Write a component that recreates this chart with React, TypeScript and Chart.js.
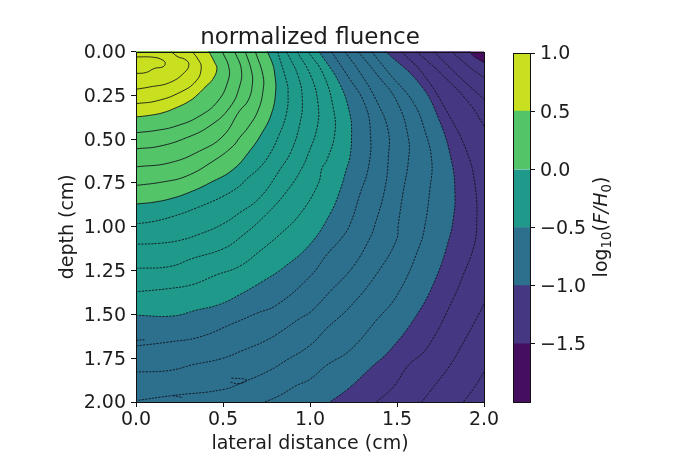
import React, { useEffect, useRef } from "react";
import { Chart, registerables } from "chart.js";

Chart.register(...registerables);

type P = [number, number];

const chartTitle = "normalized fluence";
const xLabel = "lateral distance (cm)";
const yLabel = "depth (cm)";
const xTicks = [0, 0.5, 1, 1.5, 2];
const yTicks = [0, 0.25, 0.5, 0.75, 1, 1.25, 1.5, 1.75, 2];
const barLevels = [-2, -1.5, -1, -0.5, 0, 0.5, 1];
const barColors = ["#450e5f", "#453781", "#2d708e", "#1f9a8a", "#53c568", "#c8e020"];
const barTicks = [-1.5, -1, -0.5, 0, 0.5, 1];

// filled-band boundaries
const edge05: P[] = [[.419,0],[.452,.062],[.465,.100],[.440,.160],[.404,.196],[.356,.244],[.308,.282],[.231,.320],[.154,.349],[.078,.364],[0,.373]];
const edge00: P[] = [[.755,0],[.785,.07],[.797,.127],[.803,.223],[.778,.356],[.72,.471],[.655,.565],[.558,.673],[.423,.750],[.308,.803],[.212,.836],[.106,.859],[0,.870]];
const edgeM05: P[] = [[1.052,0],[1.171,.184],[1.229,.356],[1.239,.471],[1.229,.605],[1.212,.662],[1.171,.796],[1.114,.929],[.999,1.101],[.845,1.235],[.730,1.310],[.600,1.385],[.480,1.443],[.346,1.476],[.212,1.509],[0,1.505]];
const edgeM10: P[] = [[1.436,0],[1.632,.186],[1.737,.377],[1.814,.626],[1.833,.816],[1.824,.950],[1.795,1.084],[1.719,1.304],[1.613,1.504],[1.459,1.705],[1.344,1.810],[1.219,1.925],[1.114,2]];
const edgeM15: P[] = [[1.920,0],[1.939,.025],[2,.062]];

// solid contour lines
const solid09: P[] = [[0,.03],[.106,.033],[.154,.049],[.168,.068],[.154,.087],[.106,.096],[.059,.119],[0,.125]];
const solid08: P[] = [[.202,0],[.241,.030],[.279,.043],[.304,.072],[.279,.119],[.193,.177],[.078,.202],[0,.215]];
const solid07: P[] = [[.323,0],[.356,.043],[.375,.091],[.346,.167],[.250,.234],[.116,.282],[0,.297]];
const solid04: P[] = [[.496,0],[.534,.091],[.529,.167],[.471,.282],[.365,.368],[.231,.425],[.116,.450],[0,.463]];
const solid03: P[] = [[.567,0],[.605,.100],[.596,.196],[.538,.320],[.423,.425],[.289,.492],[.135,.540],[0,.555]];
const solid02: P[] = [[.628,0],[.663,.108],[.669,.184],[.644,.280],[.596,.337],[.500,.482],[.365,.568],[.193,.635],[0,.658]];
const solid01: P[] = [[.686,0],[.730,.137],[.730,.223],[.701,.337],[.644,.433],[.596,.490],[.557,.540],[.442,.626],[.289,.711],[.154,.744],[0,.764]];

// dashed contour lines
const dashM01: P[] = [[.813,0],[.864,.165],[.874,.223],[.864,.356],[.816,.490],[.768,.586],[.711,.662],[.634,.729],[.596,.767],[.500,.826],[.346,.893],[.212,.941],[.097,.970],[0,.983]];
const dashM02: P[] = [[.864,0],[.931,.137],[.956,.280],[.941,.414],[.893,.566],[.835,.662],[.711,.834],[.596,.920],[.490,.989],[.365,1.042],[.250,1.078],[.135,1.094],[0,1.100]];
const dashM03: P[] = [[.926,0],[1.008,.146],[1.046,.299],[1.041,.433],[.989,.586],[.955,.662],[.883,.776],[.749,.929],[.596,1.063],[.500,1.126],[.327,1.180],[.193,1.227],[0,1.237]];
const dashM04: P[] = [[.989,0],[1.075,.127],[1.133,.318],[1.142,.471],[1.095,.624],[1.07,.662],[1.046,.758],[.941,.929],[.826,1.044],[.711,1.139],[.596,1.225],[.461,1.275],[.327,1.329],[.193,1.352],[0,1.371]];
const dashM06: P[] = [[1.123,0],[1.210,.129],[1.315,.301],[1.348,.473],[1.335,.664],[1.286,.816],[1.229,.989],[1.181,1.065],[1.095,1.161],[.999,1.285],[.807,1.447],[.691,1.495],[.557,1.552],[.365,1.629],[.193,1.657],[0,1.680]];
const dashM07: P[] = [[1.200,0],[1.287,.119],[1.383,.282],[1.450,.454],[1.450,.606],[1.431,.778],[1.373,.989],[1.344,1.065],[1.248,1.227],[1.114,1.371],[.999,1.489],[.941,1.523],[.845,1.590],[.749,1.648],[.615,1.705],[.490,1.753],[.327,1.787],[.193,1.820],[0,1.829]];
const dashM08: P[] = [[1.277,0],[1.383,.129],[1.498,.282],[1.565,.492],[1.565,.626],[1.536,.798],[1.507,.989],[1.497,1.075],[1.392,1.256],[1.239,1.447],[1.095,1.581],[.999,1.677],[.864,1.762],[.768,1.820],[.615,1.887],[.500,1.929],[.212,1.963],[0,1.992]];
const dashM09: P[] = [[1.354,0],[1.459,.129],[1.594,.291],[1.661,.454],[1.700,.626],[1.690,.778],[1.661,.989],[1.632,1.103],[1.507,1.380],[1.382,1.533],[1.229,1.705],[1.095,1.791],[.999,1.871],[.922,1.906],[.826,1.963],[.740,2]];
const dashM11: P[] = [[1.526,0],[1.651,.129],[1.785,.339],[1.900,.568],[1.948,.759],[1.958,.989],[1.939,1.122],[1.881,1.274],[1.824,1.409],[1.670,1.695],[1.565,1.791],[1.478,1.915],[1.382,2]];
const dashM12a: P[] = [[1.613,0],[1.766,.138],[1.920,.301],[2,.425]];
const dashM12b: P[] = [[2,1.438],[1.977,1.486],[1.862,1.695],[1.805,1.791],[1.709,1.915],[1.642,2]];
const dashM13a: P[] = [[1.712,0],[1.843,.129],[2,.272]];
const dashM13b: P[] = [[2,1.829],[1.939,1.925],[1.881,2]];
const dashM14: P[] = [[1.814,0],[1.920,.091],[2,.148]];
const speck1: P[] = [[0,1.648],[.048,1.645]];
const speck2: P[] = [[.548,1.863],[.634,1.873],[.596,1.896],[.538,1.886]];
const speck3: P[] = [[.212,1.963],[.270,1.975]];

const solidLines = [solid09, solid08, solid07, solid04, solid03, solid02, solid01];
const dashedLines = [dashM01, dashM02, dashM03, dashM04, dashM06, dashM07, dashM08, dashM09, dashM11, dashM12a, dashM12b, dashM13a, dashM13b, dashM14, speck1, speck2, speck3];

const OUT = 0.3; // how far the fill shapes reach beyond the clipped plot
const LOW = -OUT;
const HIGH = 2 + OUT;

// continue a contour's end segment straight on, out of the clipped plot
function reach(from: P, to: P, axis: 0 | 1, limit: number): P {
  const d = to[axis] - from[axis];
  const t = d === 0 ? 0 : (limit - to[axis]) / d;
  const other = axis === 0 ? 1 : 0;
  const p: P = [0, 0];
  p[axis] = limit;
  p[other] = to[other] + (to[other] - from[other]) * t;
  return p;
}
function toLeft(c: P[]): P[] {
  return [reach(c[1], c[0], 1, LOW), ...c, reach(c[c.length - 2], c[c.length - 1], 0, LOW), [LOW - 0.5, LOW - 0.5]];
}
function toBottom(c: P[]): P[] {
  return [reach(c[1], c[0], 1, LOW), ...c, reach(c[c.length - 2], c[c.length - 1], 1, HIGH), [LOW - 0.5, HIGH + 0.5], [LOW - 0.5, LOW - 0.5]];
}
function toRight(c: P[]): P[] {
  return [reach(c[1], c[0], 1, LOW), ...c, reach(c[c.length - 2], c[c.length - 1], 0, HIGH), [HIGH + 0.5, HIGH + 0.5], [LOW - 0.5, HIGH + 0.5], [LOW - 0.5, LOW - 0.5]];
}

const INK = "rgba(15,15,25,0.85)";
const DASH = [2.2, 1.2];
const TEXT = "#1c1c1c";
const FONT = "'DejaVu Sans'";
const TENSION = 0.45;

const App = () => {
  const mainRef = useRef<HTMLCanvasElement>(null);
  const barRef = useRef<HTMLCanvasElement>(null);

  useEffect(() => {
    const band = (data: P[], color: string, dashed: boolean) => ({
      data,
      showLine: true,
      fill: "shape",
      backgroundColor: color,
      borderColor: INK,
      borderWidth: 1,
      borderDash: dashed ? DASH : [],
      pointRadius: 0,
      tension: TENSION,
      capBezierPoints: false,
    });
    const line = (data: P[], dashed: boolean) => ({
      data,
      showLine: true,
      fill: false,
      borderColor: INK,
      borderWidth: 1,
      borderDash: dashed ? DASH : [],
      pointRadius: 0,
      tension: TENSION,
      capBezierPoints: false,
    });
    const base: P[] = [[LOW, LOW], [HIGH, LOW], [HIGH, HIGH], [LOW, HIGH]];
    // first dataset is drawn last
    const datasets = [
      ...solidLines.map((d) => line(d, false)),
      ...dashedLines.map((d) => line(d, true)),
      band(toLeft(edge05), barColors[5], false),
      band(toLeft(edge00), barColors[4], false),
      band(toLeft(edgeM05), barColors[3], true),
      band(toBottom(edgeM10), barColors[2], true),
      band(toRight(edgeM15), barColors[1], true),
      { data: base, showLine: true, fill: "shape", backgroundColor: barColors[0], borderWidth: 0, pointRadius: 0, tension: 0 },
    ];

    const framePlugin = {
      id: "frame",
      afterDatasetsDraw(c: any) {
        const { left, right, top, bottom } = c.chartArea;
        const ctx = c.ctx;
        ctx.save();
        ctx.strokeStyle = "#111";
        ctx.lineWidth = 1;
        ctx.strokeRect(Math.round(left) + 0.5, Math.round(top) + 0.5, Math.round(right - left), Math.round(bottom - top));
        ctx.restore();
      },
    };

    const main = new Chart(mainRef.current!, {
      type: "scatter",
      data: { datasets: datasets as any },
      plugins: [framePlugin],
      options: {
        animation: false,
        responsive: false,
        devicePixelRatio: 1,
        events: [],
        layout: { padding: { left: 0, right: 189, top: 0, bottom: 0 } },
        plugins: {
          legend: { display: false },
          tooltip: { enabled: false },
          title: {
            display: true,
            text: chartTitle,
            fullSize: false,
            color: TEXT,
            font: { family: FONT, size: 23, weight: "normal", lineHeight: 1.2 },
            padding: { top: 24, bottom: 0 },
          },
        },
        scales: {
          x: {
            type: "linear",
            min: 0,
            max: 2,
            afterBuildTicks: (s: any) => { s.ticks = xTicks.map((value) => ({ value })); },
            afterFit: (s: any) => { s.height = 73; },
            ticks: { color: TEXT, font: { family: FONT, size: 19 }, padding: 2, maxRotation: 0, autoSkip: false, callback: (v: any) => Number(v).toFixed(1) },
            grid: { drawOnChartArea: false, drawTicks: true, tickLength: 5, tickColor: "#111", tickWidth: 1 },
            border: { display: false },
            title: { display: true, text: xLabel, color: TEXT, font: { family: FONT, size: 19, lineHeight: 1.2 }, padding: { top: 0, bottom: 20 } },
          },
          y: {
            type: "linear",
            reverse: true,
            min: 0,
            max: 2,
            afterBuildTicks: (s: any) => { s.ticks = yTicks.map((value) => ({ value })); },
            afterFit: (s: any) => { s.width = 136; },
            ticks: { color: TEXT, font: { family: FONT, size: 19 }, padding: 5, labelOffset: 1.5, autoSkip: false, callback: (v: any) => Number(v).toFixed(2) },
            grid: { drawOnChartArea: false, drawTicks: true, tickLength: 5, tickColor: "#111", tickWidth: 1 },
            border: { display: false },
            title: { display: true, text: yLabel, color: TEXT, font: { family: FONT, size: 19, lineHeight: 1.2 }, padding: { top: 57, bottom: 0 } },
          },
        },
      } as any,
    });

    const barLabelPlugin = {
      id: "barLabel",
      afterDraw(c: any) {
        const ctx = c.ctx;
        ctx.save();
        ctx.translate(607, 227);
        ctx.rotate(-Math.PI / 2);
        ctx.textBaseline = "alphabetic";
        ctx.fillStyle = TEXT;
        const parts: [string, string, number][] = [
          ["log", `19px ${FONT}`, 0],
          ["10", `13.3px ${FONT}`, 4],
          ["(", `19px ${FONT}`, 0],
          ["F/H", `italic 19px ${FONT}`, 0],
          ["0", `13.3px ${FONT}`, 4],
          [")", `19px ${FONT}`, 0],
        ];
        let w = 0;
        for (const [t, f] of parts) { ctx.font = f; w += ctx.measureText(t).width; }
        let x = -w / 2;
        for (const [t, f, dy] of parts) {
          ctx.font = f;
          ctx.fillText(t, x, dy);
          x += ctx.measureText(t).width;
        }
        ctx.restore();
      },
    };

    const bar = new Chart(barRef.current!, {
      type: "bar",
      data: {
        labels: [""],
        datasets: barColors.map((color, i) => ({
          data: [[barLevels[i], barLevels[i + 1]]],
          backgroundColor: color,
          categoryPercentage: 1,
          barPercentage: 1,
          grouped: false,
        })) as any,
      },
      plugins: [framePlugin, barLabelPlugin],
      options: {
        animation: false,
        responsive: false,
        devicePixelRatio: 1,
        events: [],
        layout: { padding: { left: 513, right: 0, top: 53, bottom: 73 } },
        plugins: { legend: { display: false }, tooltip: { enabled: false } },
        scales: {
          x: { display: false },
          y: {
            type: "linear",
            position: "right",
            min: -2,
            max: 1,
            afterBuildTicks: (s: any) => { s.ticks = barTicks.map((value) => ({ value })); },
            afterFit: (s: any) => { s.width = 143; },
            ticks: { color: TEXT, font: { family: FONT, size: 19 }, padding: 5, labelOffset: 1.5, autoSkip: false, callback: (v: any) => Number(v).toFixed(1).replace("-", "\u2212") },
            grid: { drawOnChartArea: false, drawTicks: true, tickLength: 5, tickColor: "#111", tickWidth: 1 },
            border: { display: false },
          },
        },
      } as any,
    });

    return () => {
      main.destroy();
      bar.destroy();
    };
  }, []);

  const style: React.CSSProperties = { position: "absolute", left: 0, top: 0 };
  return (
    <div style={{ position: "fixed", left: 0, top: 0, width: 673, height: 475, background: "#fff" }}>
      <canvas ref={mainRef} width={673} height={475} style={style} />
      <canvas ref={barRef} width={673} height={475} style={style} />
    </div>
  );
};

export default App;
